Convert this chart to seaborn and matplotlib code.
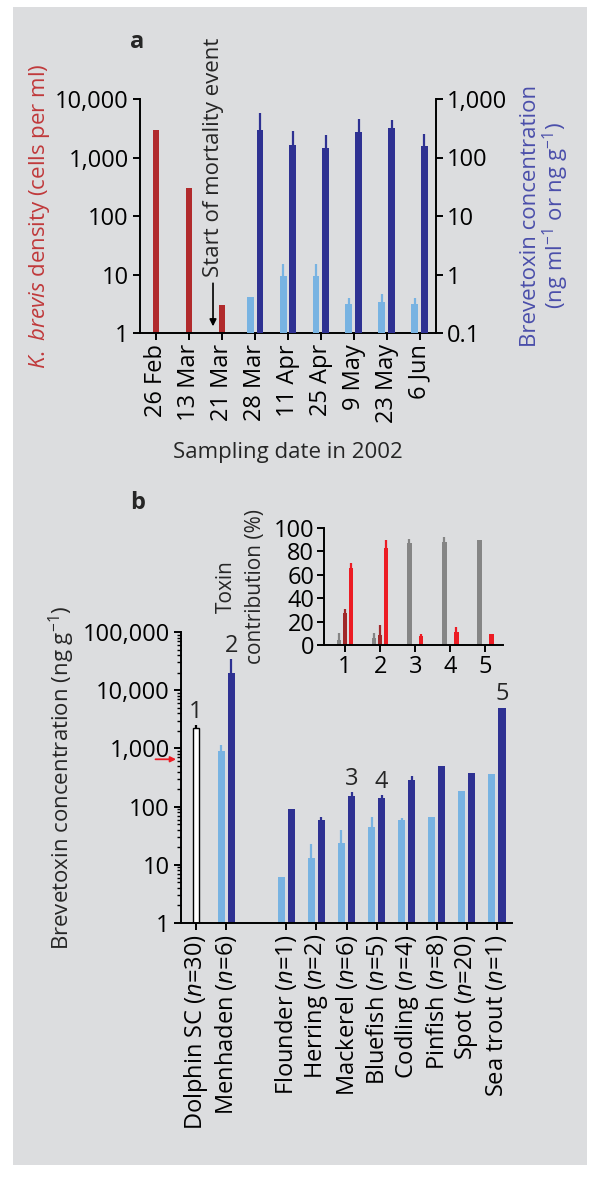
import numpy as np
import pandas as pd
import matplotlib
matplotlib.use("Agg")
import matplotlib.pyplot as plt
import seaborn as sns
from matplotlib.patches import Rectangle
from matplotlib.ticker import FuncFormatter, LogLocator, NullLocator

# ---- panel a data ----
dates = ["26 Feb", "13 Mar", "21 Mar", "28 Mar", "11 Apr", "25 Apr", "9 May", "23 May", "6 Jun"]
kb_dates = ["26 Feb", "13 Mar", "21 Mar"]
kb_density = [3000, 300, 3]
tox_dates = ["28 Mar", "11 Apr", "25 Apr", "9 May", "23 May", "6 Jun"]
tox_water = [0.41, 0.94, 0.94, 0.31, 0.34, 0.31]
tox_water_err = [np.nan, 1.5, 1.5, 0.40, 0.46, 0.39]
tox_fish = [300, 165, 145, 275, 320, 155]
tox_fish_err = [575, 285, 242, 455, 430, 255]

# ---- panel b data ----
species = ["Dolphin SC ($n$=30)", "Menhaden ($n$=6)", "",
           "Flounder ($n$=1)", "Herring ($n$=2)", "Mackerel ($n$=6)",
           "Bluefish ($n$=5)", "Codling ($n$=4)", "Pinfish ($n$=8)",
           "Spot ($n$=20)", "Sea trout ($n$=1)"]
dolphin_sc = [2200]
dolphin_sc_err = [2500]
fish_species = [s for s in species[1:] if s]
fish_muscle = [890, 6.2, 13, 23.6, 44.5, 59, 66, 183, 370]
fish_muscle_err = [1130, np.nan, 22.7, 40, 66, 63, np.nan, np.nan, np.nan]
fish_viscera = [19500, 90, 59, 151, 138, 283, 490, 373, 5000]
fish_viscera_err = [34000, np.nan, 66, 178, 158, 330, np.nan, np.nan, np.nan]
threshold = 650
marks = ["1", "2", "3", "4", "5"]
mark_species = [species[0], species[1], species[5], species[6], species[10]]

# ---- inset data ----
groups = ["1", "2", "3", "4", "5"]
pbtx2 = [4, 6, 87, 88, 90]
pbtx2_err = [10, 10, 91, 92, np.nan]
pbtx3 = [27, 8.5, np.nan, np.nan, np.nan]
pbtx3_err = [31, 17, np.nan, np.nan, np.nan]
pbtx_other = [66, 83, 8, 11, 9]
pbtx_other_err = [70, 90, 9, 15, np.nan]

BG = "#dcdddf"
RED = "#b12a2c"
LIGHT = "#78b3e2"
DARK = "#2e3192"
GRAY = "#858585"
DKRED = "#a0282a"
BRRED = "#ec1c24"
LABEL_RED = "#c0393b"
LABEL_BLUE = "#4a4eaa"
FS = 16
TFS = 17

sns.set_style("ticks")
plt.rcParams["font.family"] = ["Open Sans", "DejaVu Sans"]
plt.rcParams["mathtext.fontset"] = "custom"
plt.rcParams["mathtext.rm"] = "Open Sans"
plt.rcParams["mathtext.it"] = "Open Sans:italic"
plt.rcParams["mathtext.bf"] = "Open Sans:bold"
plt.rcParams["axes.linewidth"] = 1.4
plt.rcParams["axes.edgecolor"] = "black"
plt.rcParams["xtick.color"] = "black"
plt.rcParams["ytick.color"] = "black"


def add_errs(ax, order, cats, vals, errs, offset, color):
    x, y, up = [], [], []
    for c, v, e in zip(cats, vals, errs):
        if np.isnan(v) or np.isnan(e):
            continue
        x.append(order.index(c) + offset)
        y.append(v)
        up.append(e - v)
    if x:
        ax.errorbar(x, y, yerr=[np.zeros(len(up)), up], fmt="none",
                    ecolor=color, elinewidth=1.6, capsize=0, zorder=1)


def comma_fmt(v, pos):
    return "{:,g}".format(v)


fig = plt.figure(figsize=(6, 11.8), dpi=100)
fig.patch.set_facecolor("white")
fig.add_artist(Rectangle((13 / 600, 15 / 1180), 574 / 600, 1158 / 1180,
                         transform=fig.transFigure, facecolor=BG,
                         edgecolor="none", zorder=-5))

# ================= panel a =================
ax_a = fig.add_axes([140 / 600, 1 - 333 / 1180, 296 / 600, 234 / 1180])
ax_a.set_facecolor("none")
sns.barplot(x=kb_dates, y=kb_density, order=dates, color=RED, width=0.18,
            saturation=1, linewidth=0, errorbar=None, ax=ax_a)
ax_a.set_yscale("log")
ax_a.set_ylim(1, 10000)
ax_a.set_xlim(-0.5, 8.5)

ax_t = ax_a.twinx()
ax_t.set_facecolor("none")
tox = pd.DataFrame({"date": tox_dates * 2,
                    "conc": tox_water + tox_fish,
                    "kind": ["water"] * len(tox_dates) + ["fish"] * len(tox_dates)})
sns.barplot(data=tox, x="date", y="conc", hue="kind", order=dates,
            hue_order=["water", "fish"], palette=[LIGHT, DARK], width=0.6,
            gap=0.3, saturation=1, linewidth=0, errorbar=None, legend=False,
            ax=ax_t)
ax_t.set_yscale("log")
ax_t.set_ylim(0.1, 1000)
ax_t.set_xlim(-0.5, 8.5)
off_a = 0.6 / 4
add_errs(ax_t, dates, tox_dates, tox_water, tox_water_err, -off_a, LIGHT)
add_errs(ax_t, dates, tox_dates, tox_fish, tox_fish_err, off_a, DARK)

for ax in (ax_a, ax_t):
    ax.yaxis.set_major_locator(LogLocator(base=10, numticks=10))
    ax.yaxis.set_minor_locator(NullLocator())
    ax.yaxis.set_major_formatter(FuncFormatter(comma_fmt))
    ax.tick_params(direction="out", length=5, width=1.4, labelsize=TFS, pad=3)
ax_a.spines["top"].set_visible(False)
ax_a.spines["right"].set_visible(False)
for s in ("top", "left", "bottom"):
    ax_t.spines[s].set_visible(False)
ax_a.set_xticks(range(len(dates)))
ax_a.set_xticklabels(dates, rotation=90)

ax_a.set_xlabel("Sampling date in 2002", fontsize=FS)
ax_a.xaxis.label.set_va("center")
ax_a.xaxis.set_label_coords(0.5, -0.51)
ax_t.set_xlabel("")
ax_a.set_ylabel("$K.\\ brevis$ density (cells per ml)", fontsize=FS, color=LABEL_RED)
ax_a.yaxis.label.set_va("center")
ax_a.yaxis.set_label_coords(-0.34, 0.5)
ax_t.set_ylabel("Brevetoxin concentration\n(ng ml$^{-1}$ or ng g$^{-1}$)",
                fontsize=FS, color=LABEL_BLUE, linespacing=1.0)
ax_t.yaxis.label.set_va("center")
ax_t.yaxis.set_label_coords(1.37, 0.5)

ax_a.annotate("Start of mortality event", xy=(1.72, 1.3), xytext=(1.72, 9.0),
              rotation=90, ha="center", va="bottom", fontsize=FS,
              annotation_clip=False,
              arrowprops=dict(arrowstyle="-|>", color="black", lw=1.2,
                              shrinkA=2, shrinkB=0, mutation_scale=10))
fig.text(137 / 600, 1 - 42 / 1180, "a", fontsize=FS + 1, fontweight="bold",
         ha="center", va="center")

# ================= panel b =================
ax_b = fig.add_axes([181 / 600, 1 - 923 / 1180, 331 / 600, 291 / 1180])
ax_b.set_facecolor("none")
sns.barplot(x=[species[0]], y=dolphin_sc, order=species, color="white",
            edgecolor="black", linewidth=1.0, width=0.22, saturation=1,
            errorbar=None, ax=ax_b)
fish = pd.DataFrame({"species": fish_species * 2,
                     "conc": fish_muscle + fish_viscera,
                     "tissue": ["muscle"] * len(fish_species) + ["viscera"] * len(fish_species)})
sns.barplot(data=fish, x="species", y="conc", hue="tissue", order=species,
            hue_order=["muscle", "viscera"], palette=[LIGHT, DARK], width=0.67,
            gap=0.3, saturation=1, linewidth=0, errorbar=None, legend=False,
            ax=ax_b)
ax_b.set_yscale("log")
ax_b.set_ylim(1, 100000)
ax_b.set_xlim(-0.5, 10.5)
off_b = 0.67 / 4
add_errs(ax_b, species, [species[0]], dolphin_sc, dolphin_sc_err, 0, "black")
add_errs(ax_b, species, fish_species, fish_muscle, fish_muscle_err, -off_b, LIGHT)
add_errs(ax_b, species, fish_species, fish_viscera, fish_viscera_err, off_b, DARK)

ax_b.yaxis.set_major_locator(LogLocator(base=10, numticks=10))
ax_b.yaxis.set_minor_locator(LogLocator(base=10, subs=np.arange(2, 10), numticks=20))
ax_b.yaxis.set_major_formatter(FuncFormatter(comma_fmt))
ax_b.tick_params(direction="out", length=5, width=1.4, labelsize=TFS, pad=3)
ax_b.tick_params(which="minor", direction="out", length=3, width=1.0)
for s in ("top", "right"):
    ax_b.spines[s].set_visible(False)
tick_pos = [i for i, s in enumerate(species) if s]
ax_b.set_xticks(tick_pos)
ax_b.set_xticklabels([species[i] for i in tick_pos], rotation=90)
ax_b.set_xlabel("")
ax_b.set_ylabel("Brevetoxin concentration (ng g$^{-1}$)", fontsize=FS)
ax_b.yaxis.label.set_va("center")
ax_b.yaxis.set_label_coords(-0.36, 0.5)

# numbers above bars
top_lookup = {species[0]: (0, max(dolphin_sc[0], dolphin_sc_err[0]))}
for s, v, e in zip(fish_species, fish_viscera, fish_viscera_err):
    top_lookup[s] = (off_b, v if np.isnan(e) else max(v, e))
for m, s in zip(marks, mark_species):
    dx, top = top_lookup[s]
    ax_b.annotate(m, xy=(species.index(s) + dx, top), xytext=(0, 1),
                  textcoords="offset points", ha="center", va="bottom",
                  fontsize=TFS, annotation_clip=False)

ax_b.annotate("", xy=(-0.015, threshold), xycoords=("axes fraction", "data"),
              xytext=(-0.077, threshold), textcoords=("axes fraction", "data"),
              arrowprops=dict(arrowstyle="-|>", color=BRRED, lw=1.3,
                              shrinkA=0, shrinkB=0, mutation_scale=8))
fig.text(138 / 600, 1 - 503 / 1180, "b", fontsize=FS + 1, fontweight="bold",
         ha="center", va="center")

# ================= inset =================
ax_in = fig.add_axes([324 / 600, 1 - 645 / 1180, 179 / 600, 117 / 1180])
ax_in.set_facecolor("none")
contrib = pd.DataFrame({"group": groups * 3,
                        "pct": pbtx2 + pbtx3 + pbtx_other,
                        "toxin": ["PbTx-2"] * 5 + ["PbTx-3"] * 5 + ["other"] * 5}).dropna()
sns.barplot(data=contrib, x="group", y="pct", hue="toxin", order=groups,
            hue_order=["PbTx-2", "PbTx-3", "other"], palette=[GRAY, DKRED, BRRED],
            width=0.51, gap=0.25, saturation=1, linewidth=0, errorbar=None,
            legend=False, ax=ax_in)
off_in = 0.51 / 3
add_errs(ax_in, groups, groups, pbtx2, pbtx2_err, -off_in, GRAY)
add_errs(ax_in, groups, groups, pbtx3, pbtx3_err, 0, DKRED)
add_errs(ax_in, groups, groups, pbtx_other, pbtx_other_err, off_in, BRRED)
ax_in.set_ylim(0, 100)
ax_in.set_xlim(-0.6, 4.5)
ax_in.set_yticks(range(0, 101, 20))
ax_in.tick_params(direction="out", length=5, width=1.4, labelsize=TFS, pad=2)
for s in ("top", "right"):
    ax_in.spines[s].set_visible(False)
ax_in.set_xlabel("")
ax_in.set_ylabel("contribution (%)", fontsize=FS - 1)
ax_in.yaxis.label.set_va("center")
ax_in.yaxis.set_label_coords(-0.385, 0.5)
ax_in.text(-0.545, 0.5, "Toxin", transform=ax_in.transAxes, rotation=90,
           ha="center", va="center", fontsize=FS - 1)

fig.savefig("out.png", dpi=100, facecolor="white")
